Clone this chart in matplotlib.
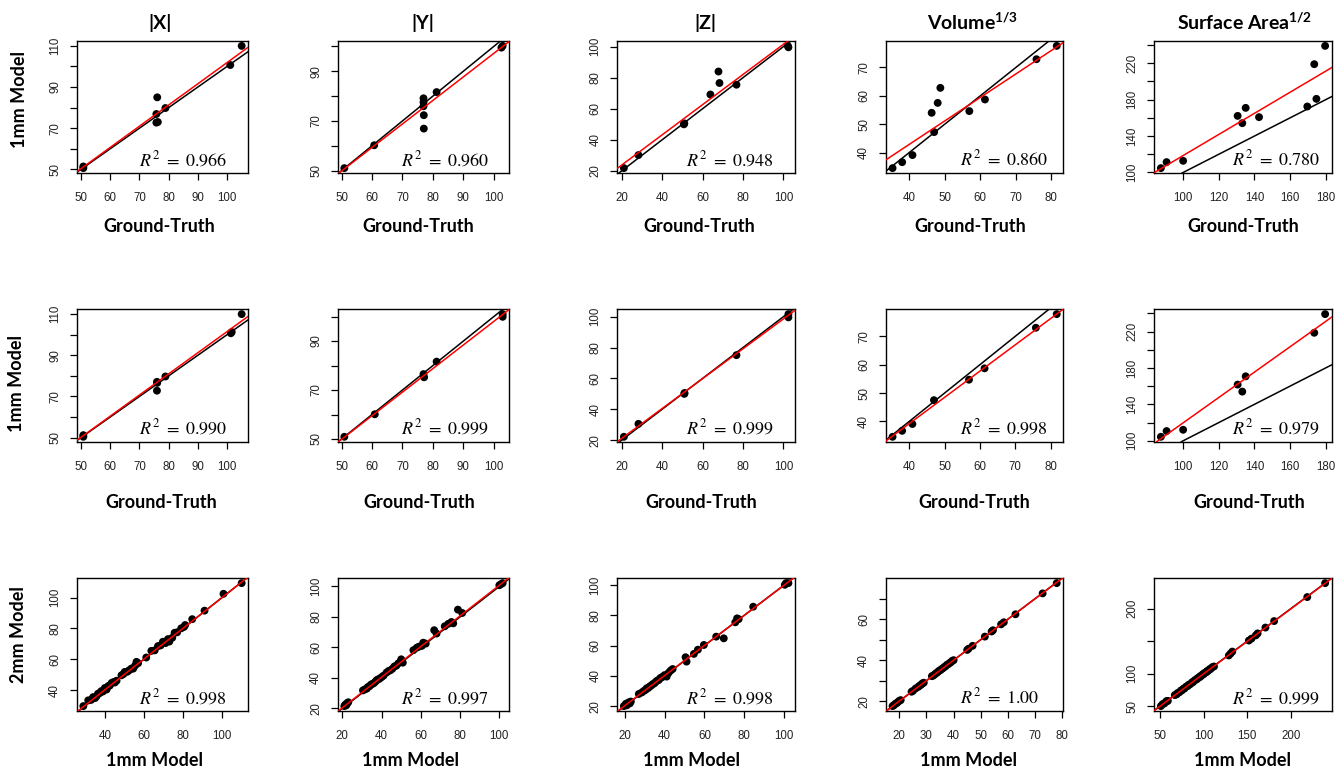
import matplotlib
matplotlib.use('Agg')
import matplotlib.pyplot as plt
import numpy as np

# ---------------- data ----------------
titles = ['|X|', '|Y|', '|Z|', r'Volume$^{\mathbf{1/3}}$', r'Surface Area$^{\mathbf{1/2}}$']
row_ylabels = ['1mm Model', '1mm Model', '2mm Model']
row_xlabels = ['Ground-Truth', 'Ground-Truth', '1mm Model']

# Row 1: ground truth vs 1mm model
x_r1c1 = [50.8, 50.8, 76.1, 75.8, 75.8, 76.3, 78.9, 101.1, 105.0]
y_r1c1 = [51.4, 50.6, 85.0, 76.9, 72.7, 73.0, 79.8, 100.7, 110.0]
x_r1c2 = [50.9, 60.7, 76.9, 76.9, 76.9, 77.0, 77.0, 81.2, 102.5, 102.9]
y_r1c2 = [51.0, 60.2, 79.1, 77.5, 75.9, 72.3, 66.9, 81.6, 99.5, 100.2]
x_r1c3 = [21.1, 28.3, 50.8, 51.0, 63.9, 67.9, 68.4, 76.8, 102.2, 102.5]
y_r1c3 = [21.8, 30.2, 50.0, 50.6, 69.2, 84.0, 76.6, 75.5, 100.5, 99.6]
x_r1c4 = [35.3, 38.0, 40.9, 47.0, 46.3, 48.0, 48.75, 56.9, 61.3, 75.8, 81.5]
y_r1c4 = [34.5, 36.6, 39.1, 47.2, 54.0, 57.5, 62.8, 54.6, 58.7, 72.9, 77.6]
x_r1c5 = [87.5, 90.7, 100.0, 130.6, 133.2, 135.1, 142.6, 169.7, 173.6, 174.8, 179.7]
y_r1c5 = [104.8, 111.4, 112.8, 162.2, 154.2, 171.0, 160.8, 172.5, 219.0, 180.9, 239.1]

# Row 2: ground truth vs 1mm model (second version)
x_r2c1 = [50.8, 50.8, 76.0, 76.1, 76.0, 78.9, 101.3, 101.6, 105.0]
y_r2c1 = [51.2, 50.4, 77.1, 76.6, 72.8, 79.7, 100.7, 101.3, 110.0]
x_r2c2 = [50.9, 60.9, 76.9, 77.1, 81.2, 102.9, 102.9]
y_r2c2 = [50.9, 60.1, 76.5, 75.2, 81.6, 101.0, 99.9]
x_r2c3 = [21.1, 28.3, 51.1, 51.0, 76.8, 102.5, 102.5]
y_r2c3 = [22.2, 30.6, 50.6, 50.0, 75.1, 99.6, 101.7]
x_r2c4 = [35.3, 38.0, 40.9, 47.0, 56.9, 61.3, 75.8, 81.7]
y_r2c4 = [34.6, 36.7, 39.1, 47.5, 54.7, 58.7, 73.0, 77.8]
x_r2c5 = [87.5, 90.7, 100.0, 130.6, 133.2, 135.1, 173.6, 179.7]
y_r2c5 = [104.4, 110.7, 112.1, 161.7, 154.0, 170.8, 218.6, 239.1]

# Row 3: 1mm model vs 2mm model
x_r3c1 = [29.0, 31.5, 33.0, 34.0, 35.0, 35.8, 36.5, 37.4, 38.2, 39.0, 40.0, 40.9, 41.8, 42.5,
          43.5, 44.5, 45.1, 46.0, 48.5, 49.5, 50.2, 51.5, 52.5, 53.6, 54.5, 55.5, 56.2, 57.0,
          61.2, 63.8, 65.5, 67.2, 68.5, 69.7, 71.0, 72.3, 73.0, 74.5, 75.7, 77.0, 79.1, 80.5,
          81.1, 84.7, 91.0, 100.7, 110.0]
y_r3c1 = [29.8, 33.5, 33.8, 35.6, 35.0, 36.2, 37.8, 38.2, 39.5, 39.2, 41.5, 40.5, 42.8, 43.0,
          44.8, 45.4, 45.0, 46.2, 49.7, 50.5, 51.9, 52.0, 53.0, 54.1, 54.0, 56.0, 58.4, 57.5,
          61.2, 65.5, 65.8, 68.6, 69.0, 71.4, 70.5, 73.1, 71.5, 74.0, 77.2, 77.5, 80.1, 81.0,
          82.2, 86.0, 91.5, 102.4, 109.3]
x_r3c2 = [21.0, 21.5, 22.0, 22.5, 23.0, 30.5, 31.5, 32.5, 33.0, 33.8, 34.5, 35.2, 36.0, 36.8,
          37.5, 38.2, 39.0, 40.0, 41.0, 42.5, 43.5, 44.5, 45.5, 46.5, 47.5, 48.5, 49.5, 50.0,
          50.8, 56.2, 57.9, 59.0, 60.5, 61.2, 62.5, 66.8, 68.0, 72.2, 74.0, 75.6, 76.5, 78.9,
          81.1, 100.0, 100.8, 101.7]
y_r3c2 = [21.5, 22.5, 22.0, 23.5, 24.0, 31.8, 32.5, 33.0, 34.0, 34.5, 35.5, 36.0, 36.5, 37.5,
          38.5, 39.0, 39.5, 40.5, 41.5, 43.5, 44.5, 45.0, 46.0, 47.5, 48.0, 49.5, 50.5, 52.2,
          50.0, 58.2, 59.8, 60.5, 61.0, 63.1, 62.5, 71.3, 69.1, 73.9, 75.5, 76.7, 75.8, 84.8,
          82.6, 100.8, 101.5, 102.2]
x_r3c3 = [19.5, 20.5, 21.0, 21.5, 22.0, 22.5, 23.0, 27.0, 28.5, 29.5, 30.5, 31.0, 31.8, 32.5,
          33.2, 34.0, 34.8, 35.5, 36.2, 37.0, 37.8, 38.5, 39.2, 40.0, 41.0, 42.0, 43.0, 44.0,
          50.5, 51.0, 54.7, 56.7, 59.7, 65.9, 69.7, 75.5, 76.4, 77.2, 84.5, 100.4, 101.0, 102.2]
y_r3c3 = [20.0, 21.5, 20.5, 22.0, 22.5, 21.8, 23.0, 28.0, 29.0, 30.0, 30.8, 31.8, 32.0, 33.0,
          33.5, 34.5, 35.0, 36.0, 36.8, 37.2, 38.5, 39.0, 39.5, 40.5, 39.5, 42.0, 43.5, 44.5,
          52.3, 49.4, 54.5, 57.3, 60.4, 65.9, 64.8, 75.4, 78.0, 77.5, 85.7, 100.2, 101.3, 101.3]
x_r3c4 = [17.5, 18.0, 18.5, 19.0, 19.5, 20.0, 20.5, 24.5, 25.0, 26.0, 27.0, 27.5, 28.0, 28.5,
          29.0, 32.0, 32.5, 33.0, 33.5, 34.0, 34.5, 35.0, 35.5, 36.0, 36.5, 37.0, 37.5, 38.0,
          38.5, 39.0, 39.5, 40.0, 45.0, 45.5, 47.0, 51.5, 54.0, 54.5, 57.5, 58.5, 62.8, 72.8, 78.0]
y_r3c4 = [17.6, 18.0, 18.7, 19.0, 19.6, 20.2, 20.5, 24.6, 25.0, 26.2, 27.0, 27.6, 28.0, 28.7,
          29.0, 32.2, 32.5, 33.0, 33.6, 34.0, 34.7, 35.0, 35.6, 36.0, 36.6, 37.0, 37.7, 38.0,
          38.6, 39.0, 39.7, 40.0, 45.0, 45.6, 47.0, 51.5, 54.0, 54.6, 57.5, 58.5, 62.4, 72.6, 77.6]
x_r3c5 = [51, 53, 55, 57, 58, 59, 67, 69, 70, 72, 74, 75, 77, 78, 80, 82, 83, 85, 87, 88, 90,
          92, 93, 95, 96, 97, 99, 100, 101, 103, 104, 105, 107, 108, 110, 112, 129, 131, 133,
          152, 155, 160, 162, 171, 181, 219, 239.5]
y_r3c5 = [50, 53, 54, 57, 58, 58, 67, 68, 70, 71, 74, 74, 77, 77, 80, 81, 83, 84, 87, 87, 90,
          91, 93, 94, 96, 96, 99, 99, 101, 102, 104, 104, 107, 107, 110, 111, 128, 131, 134,
          151, 154, 159, 162, 171, 181, 218, 239.5]

# red regression lines (slope, intercept)
fit_slope = [[1.031, 0.947, 0.972, 0.828, 1.159],
             [1.027, 0.963, 0.968, 0.926, 1.392],
             [0.995, 1.005, 0.995, 0.998, 1.000]]
fit_intercept = [[-1.21, 2.5, 4.3, 9.75, 2.7],
                 [-1.2, 1.73, 1.77, 2.18, -19.5],
                 [0.5, 0.3, 0.4, 0.1, -0.3]]
r2_values = [['0.966', '0.960', '0.948', '0.860', '0.780'],
             ['0.990', '0.999', '0.999', '0.998', '0.979'],
             ['0.998', '0.997', '0.998', '1.00', '0.999']]

# tick positions and labels (R omits overlapping labels)
ticks_gt = [
    ([50, 60, 70, 80, 90, 100], ['50', '60', '70', '80', '90', '100'],
     [50, 60, 70, 80, 90, 100, 110], ['50', '', '70', '', '90', '', '110']),
    ([50, 60, 70, 80, 90, 100], ['50', '60', '70', '80', '90', '100'],
     [50, 60, 70, 80, 90, 100], ['50', '', '70', '', '90', '']),
    ([20, 40, 60, 80, 100], ['20', '40', '60', '80', '100'],
     [20, 40, 60, 80, 100], ['20', '40', '60', '80', '100']),
    ([40, 50, 60, 70, 80], ['40', '50', '60', '70', '80'],
     [40, 50, 60, 70], ['40', '50', '60', '70']),
    ([100, 120, 140, 160, 180], ['100', '120', '140', '160', '180'],
     [100, 120, 140, 160, 180, 200, 220, 240], ['100', '', '140', '', '180', '', '220', '']),
]
ticks_mm = [
    ([40, 60, 80, 100], ['40', '60', '80', '100'], [40, 60, 80, 100], ['40', '60', '80', '100']),
    ([20, 40, 60, 80, 100], ['20', '40', '60', '80', '100'],
     [20, 40, 60, 80, 100], ['20', '40', '60', '80', '100']),
    ([20, 40, 60, 80, 100], ['20', '40', '60', '80', '100'],
     [20, 40, 60, 80, 100], ['20', '40', '60', '80', '100']),
    ([20, 30, 40, 50, 60, 70, 80], ['20', '30', '40', '50', '60', '70', '80'],
     [20, 30, 40, 50, 60, 70], ['20', '', '40', '', '60', '']),
    ([50, 100, 150, 200], ['50', '100', '150', '200'],
     [50, 100, 150, 200], ['50', '100', '', '200']),
]

xs = [[x_r1c1, x_r1c2, x_r1c3, x_r1c4, x_r1c5],
      [x_r2c1, x_r2c2, x_r2c3, x_r2c4, x_r2c5],
      [x_r3c1, x_r3c2, x_r3c3, x_r3c4, x_r3c5]]
ys = [[y_r1c1, y_r1c2, y_r1c3, y_r1c4, y_r1c5],
      [y_r2c1, y_r2c2, y_r2c3, y_r2c4, y_r2c5],
      [y_r3c1, y_r3c2, y_r3c3, y_r3c4, y_r3c5]]
ticks_rows = [ticks_gt, ticks_gt, ticks_mm]

# ---------------- style / layout ----------------
plt.rcParams['mathtext.fontset'] = 'custom'
plt.rcParams['mathtext.bf'] = 'Lato:bold'
plt.rcParams['mathtext.rm'] = 'Lato'
plt.rcParams['mathtext.it'] = 'Lato:italic'

W, H = 1344, 772
fig = plt.figure(figsize=(13.44, 7.72), dpi=100)

col_left = [77, 338, 617.3, 886, 1154.3]
col_w = [171, 171, 177.7, 177.3, 177.4]
row_top = [41, 309.2, 578.2]
row_h = [132, 132.5, 132.8]
r2_xfrac = [0.363, 0.37, 0.387, 0.417, 0.438]

title_x = [160, 422.7, 705, 972.5, 1244.7]
xlabel_pos = [([159, 418, 699.5, 970.5, 1243], 227),
              ([160.8, 419, 701, 974, 1249], 502),
              ([154, 410, 692, 968, 1243], 761)]
ylabel_pos = [(19.5, 99.5), (16.3, 383), (19, 634.7)]

label_font = 'Lato'
tick_font = 'Liberation Sans'


def rlim(v):
    v = np.asarray(v, dtype=float)
    lo, hi = v.min(), v.max()
    d = 0.04 * (hi - lo)
    return lo - d, hi + d


for r in range(3):
    for c in range(5):
        rect = [col_left[c] / W, 1 - (row_top[r] + row_h[r]) / H, col_w[c] / W, row_h[r] / H]
        ax = fig.add_axes(rect)
        x = xs[r][c]
        y = ys[r][c]
        ax.scatter(x, y, s=32, color='black', edgecolors='none', zorder=2)
        ax.axline((0, 0), slope=1, color='black', lw=1.1, zorder=3)
        ax.axline((0, fit_intercept[r][c]), slope=fit_slope[r][c], color='#ff0000', lw=1.1, zorder=4)
        ax.set_xlim(*rlim(x))
        ax.set_ylim(*rlim(y))
        xt, xl, yt, yl = ticks_rows[r][c]
        ax.set_xticks(xt)
        ax.set_xticklabels(xl)
        ax.set_yticks(yt)
        ax.set_yticklabels(yl, rotation=90, va='center')
        ax.tick_params(axis='both', direction='out', length=5, width=0.9, colors='black',
                       labelcolor='#222222', labelsize=8.3)
        ax.tick_params(axis='x', pad=9)
        ax.tick_params(axis='y', pad=6.5)
        for lab in ax.get_xticklabels() + ax.get_yticklabels():
            lab.set_fontfamily(tick_font)
        for sp in ax.spines.values():
            sp.set_linewidth(1.0)
        ax.text(r2_xfrac[c], 0.055, r'$R^2\ =\ ' + r2_values[r][c] + r'$',
                transform=ax.transAxes, ha='left', va='baseline', fontsize=13,
                math_fontfamily='stix', color='black')

for c in range(5):
    fig.text(title_x[c] / W, 1 - 22.5 / H, titles[c], ha='center', va='center',
             fontsize=14, fontweight='bold', family=label_font)

for r in range(3):
    xpos, ypix = xlabel_pos[r]
    for c in range(5):
        fig.text(xpos[c] / W, 1 - ypix / H, row_xlabels[r], ha='center', va='center',
                 fontsize=13, fontweight='bold', family=label_font)
    yx, yy = ylabel_pos[r]
    fig.text(yx / W, 1 - yy / H, row_ylabels[r], ha='center', va='center', rotation=90,
             fontsize=13, fontweight='bold', family=label_font)

fig.savefig('out.png', dpi=100)
